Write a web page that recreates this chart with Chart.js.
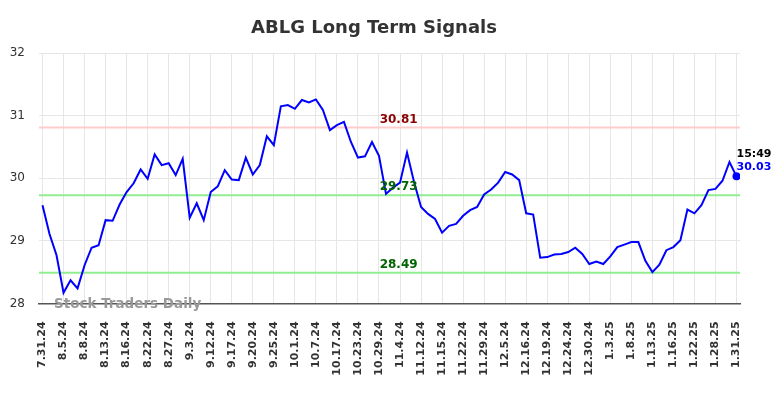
<!DOCTYPE html>
<html>
<head>
<meta charset="utf-8">
<title>ABLG Long Term Signals</title>
<script src="https://cdn.jsdelivr.net/npm/chart.js@4.4.1/dist/chart.umd.min.js"></script>
<style>
  html, body { margin: 0; padding: 0; background: #fff; }
  #wrap { width: 784px; height: 398px; }
</style>
</head>
<body>
<div id="wrap"><canvas id="myChart"></canvas></div>
<script>
// tick labels, one every 3 trading days
var tickLabels = ['7.31.24', '8.5.24', '8.8.24', '8.13.24', '8.16.24', '8.22.24', '8.27.24', '9.3.24',
  '9.12.24', '9.17.24', '9.20.24', '9.25.24', '10.1.24', '10.7.24', '10.17.24', '10.23.24', '10.29.24',
  '11.4.24', '11.12.24', '11.15.24', '11.22.24', '11.29.24', '12.5.24', '12.16.24', '12.19.24',
  '12.24.24', '12.30.24', '1.3.25', '1.8.25', '1.13.25', '1.16.25', '1.22.25', '1.28.25', '1.31.25'];

// closing prices
var prices = [29.57, 29.11, 28.77, 28.17, 28.37, 28.24, 28.61, 28.89, 28.93, 29.33,
  29.32, 29.58, 29.78, 29.92, 30.14, 29.99, 30.38, 30.21, 30.24, 30.05,
  30.31, 29.37, 29.60, 29.33, 29.78, 29.87, 30.13, 29.98, 29.97, 30.33,
  30.06, 30.21, 30.67, 30.53, 31.15, 31.17, 31.11, 31.25, 31.21, 31.26,
  31.09, 30.77, 30.85, 30.90, 30.58, 30.33, 30.35, 30.58, 30.36, 29.75,
  29.85, 29.93, 30.41, 29.94, 29.54, 29.43, 29.35, 29.13, 29.24, 29.27,
  29.40, 29.49, 29.54, 29.74, 29.82, 29.93, 30.10, 30.06, 29.97, 29.44,
  29.42, 28.73, 28.74, 28.78, 28.79, 28.82, 28.89, 28.79, 28.63, 28.67,
  28.63, 28.75, 28.90, 28.94, 28.98, 28.98, 28.68, 28.50, 28.62, 28.85,
  28.90, 29.01, 29.50, 29.44, 29.57, 29.81, 29.83, 29.96, 30.26, 30.03];

var resistance = [30.81];
var supports = [29.73, 28.49];
var lastTime = '15:49';

var lastIdx = prices.length - 1;
var FONT = "'DejaVu Sans', sans-serif";

var signalLines = {
  id: 'signalLines',
  beforeDatasetsDraw: function (chart) {
    var ctx = chart.ctx, area = chart.chartArea, y = chart.scales.y;
    ctx.save();
    ctx.lineWidth = 2;
    resistance.forEach(function (v) {
      ctx.strokeStyle = '#ffcccc';
      ctx.beginPath(); ctx.moveTo(area.left, y.getPixelForValue(v)); ctx.lineTo(area.right, y.getPixelForValue(v)); ctx.stroke();
    });
    supports.forEach(function (v) {
      ctx.strokeStyle = '#90ee90';
      ctx.beginPath(); ctx.moveTo(area.left, y.getPixelForValue(v)); ctx.lineTo(area.right, y.getPixelForValue(v)); ctx.stroke();
    });
    ctx.restore();
  },
  afterDatasetsDraw: function (chart) {
    var ctx = chart.ctx, x = chart.scales.x, y = chart.scales.y;
    var cx = x.getPixelForValue(50.8);
    ctx.save();
    ctx.font = 'bold 12px ' + FONT;
    ctx.textAlign = 'center';
    ctx.textBaseline = 'bottom';
    resistance.forEach(function (v) {
      ctx.fillStyle = '#8b0000';
      ctx.fillText(v.toFixed(2), cx, y.getPixelForValue(v) - 2);
    });
    supports.forEach(function (v) {
      ctx.fillStyle = '#006400';
      ctx.fillText(v.toFixed(2), cx, y.getPixelForValue(v) - 2);
    });

    // last price label
    var px = x.getPixelForValue(lastIdx), py = y.getPixelForValue(prices[lastIdx]);
    ctx.font = 'bold 11px ' + FONT;
    ctx.textAlign = 'left';
    ctx.textBaseline = 'alphabetic';
    ctx.fillStyle = '#000';
    ctx.fillText(lastTime, px, py - 19);
    ctx.fillStyle = '#0000ff';
    ctx.fillText(prices[lastIdx].toFixed(2), px, py - 6);
    ctx.restore();
  },
  afterDraw: function (chart) {
    // watermark over the axis line
    var ctx = chart.ctx;
    ctx.save();
    ctx.font = 'bold 13.5px ' + FONT;
    ctx.fillStyle = '#999';
    ctx.textAlign = 'left';
    ctx.textBaseline = 'alphabetic';
    ctx.fillText('Stock Traders Daily', chart.chartArea.left + 15, chart.chartArea.bottom + 4.5);
    ctx.restore();
  }
};

var ctx = document.getElementById('myChart');
var chart = new Chart(ctx, {
  type: 'line',
  data: {
    datasets: [{
      data: prices.map(function (p, i) { return { x: i, y: p }; }),
      borderColor: '#0000ff',
      borderWidth: 2,
      tension: 0,
      pointRadius: prices.map(function (p, i) { return i === lastIdx ? 4 : 0; }),
      pointBackgroundColor: '#0000ff',
      pointBorderWidth: 0
    }]
  },
  options: {
    responsive: true,
    maintainAspectRatio: false,
    animation: false,
    layout: { padding: { left: 8, right: 44, top: 0, bottom: 0 } },
    plugins: {
      legend: { display: false },
      tooltip: { enabled: false },
      title: {
        display: true,
        text: 'ABLG Long Term Signals',
        color: '#333',
        font: { family: FONT, size: 18, weight: 'bold' },
        padding: { top: 17.5, bottom: 14 }
      }
    },
    scales: {
      x: {
        type: 'linear',
        min: -0.5,
        max: lastIdx + 0.5,
        afterBuildTicks: function (scale) {
          scale.ticks = tickLabels.map(function (t, i) { return { value: i * 3 }; });
        },
        afterFit: function (scale) { scale.height = 94.6; },
        ticks: {
          autoSkip: false,
          minRotation: 90,
          maxRotation: 90,
          padding: 18,
          color: '#333',
          font: { family: FONT, size: 11, weight: 'bold' },
          callback: function (v) { return tickLabels[Math.round(v / 3)]; }
        },
        grid: { color: '#e6e6e6', drawTicks: false },
        border: { color: '#555', width: 1.5 }
      },
      y: {
        min: 28,
        max: 32,
        afterFit: function (scale) { scale.width = 31; },
        ticks: {
          stepSize: 1,
          padding: 14,
          color: '#333',
          font: { family: FONT, size: 12 }
        },
        grid: { color: '#e6e6e6', drawTicks: false },
        border: { display: false }
      }
    }
  },
  plugins: [signalLines]
});
</script>
</body>
</html>
